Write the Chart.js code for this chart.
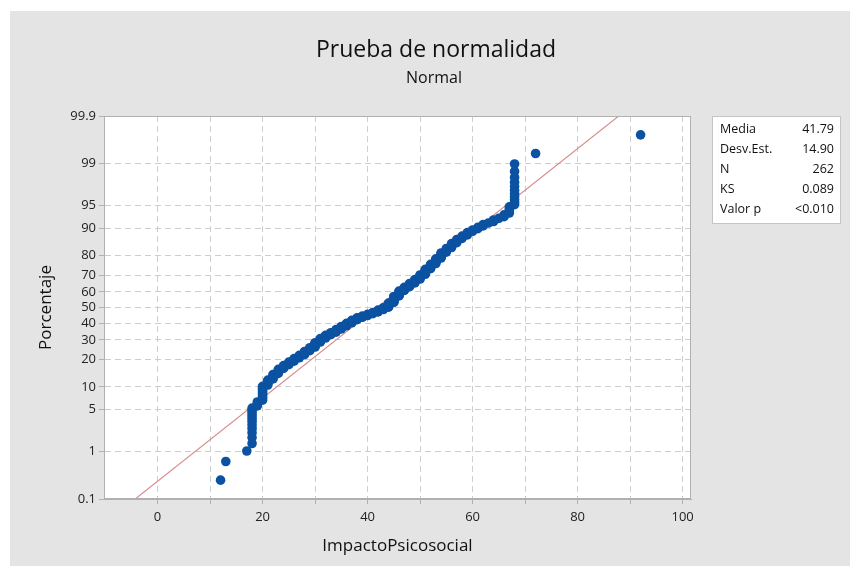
<!DOCTYPE html>
<html><head><meta charset="utf-8">
<script src="https://cdn.jsdelivr.net/npm/chart.js@4"></script>
<style>html,body{margin:0;padding:0;background:#fff}#wrap{width:850px;height:572px;position:relative}</style>
</head><body><div id="wrap"><canvas id="c" width="850" height="572"></canvas></div>
<script>
// ---- data (ImpactoPsicosocial: value and how many observations have it) ----
const impactoValues = [12,13,17,18,19,20,21,22,23,24,25,26,27,28,29,30,31,32,33,34,35,36,37,38,39,40,41,42,43,44,45,46,47,48,49,50,51,52,53,54,55,56,57,58,59,60,61,62,63,64,65,66,67,68,72,92];
const impactoCounts = [1,1,1,11,3,10,5,5,5,4,4,4,4,5,5,7,6,5,4,5,5,5,5,4,3,3,3,4,4,8,11,9,6,6,6,7,8,7,7,7,5,5,4,3,3,2,2,2,1,2,1,2,4,11,1,1];
const yTickPercents = [0.1,1,5,10,20,30,40,50,60,70,80,90,95,99,99.9];
const yTickLabels = ["0.1","1","5","10","20","30","40","50","60","70","80","90","95","99","99.9"];
const xTickValues = [0,10,20,30,40,50,60,70,80,90,100];
const xLabelStep = 20;
const statLabels = ["Media","Desv.Est.","N","KS","Valor p"];
const statValues = ["41.79","14.90","262","0.089","<0.010"];
const fitMean = 41.79;
const fitSd = 14.90;

function invNorm(p){
  const a=[-3.969683028665376e+01,2.209460984245205e+02,-2.759285104469687e+02,1.383577518672690e+02,-3.066479806614716e+01,2.506628277459239e+00];
  const b=[-5.447609879822406e+01,1.615858368580409e+02,-1.556989798598866e+02,6.680131188771972e+01,-1.328068155288572e+01];
  const c=[-7.784894002430293e-03,-3.223964580411365e-01,-2.400758277161838e+00,-2.549732539343734e+00,4.374664141464968e+00,2.938163982698783e+00];
  const d=[7.784695709041462e-03,3.224671290700398e-01,2.445134137142996e+00,3.754408661907416e+00];
  const pl=0.02425, ph=1-pl; let q,r;
  if(p<pl){q=Math.sqrt(-2*Math.log(p));return (((((c[0]*q+c[1])*q+c[2])*q+c[3])*q+c[4])*q+c[5])/((((d[0]*q+d[1])*q+d[2])*q+d[3])*q+1);}
  if(p<=ph){q=p-0.5;r=q*q;return (((((a[0]*r+a[1])*r+a[2])*r+a[3])*r+a[4])*r+a[5])*q/(((((b[0]*r+b[1])*r+b[2])*r+b[3])*r+b[4])*r+1);}
  q=Math.sqrt(-2*Math.log(1-p));return -(((((c[0]*q+c[1])*q+c[2])*q+c[3])*q+c[4])*q+c[5])/((((d[0]*q+d[1])*q+d[2])*q+d[3])*q+1);
}

// probability-plot positions (median ranks) for each observation
const sorted = [];
impactoValues.forEach((v,i)=>{ for(let k=0;k<impactoCounts[i];k++) sorted.push(v); });
const N = sorted.length;
const points = sorted.map((v,i)=>({x:v, y:invNorm((i+1-0.3)/(N+0.4))}));
const zMin = invNorm(yTickPercents[0]/100), zMax = invNorm(yTickPercents[yTickPercents.length-1]/100);
const fitLine = [{x:fitMean+zMin*fitSd, y:zMin},{x:fitMean+zMax*fitSd, y:zMax}];

const FONT = "'Open Sans', 'Noto Sans', sans-serif";

const decor = {
  id:'decor',
  beforeDraw(chart){
    const ctx=chart.ctx, a=chart.chartArea;
    ctx.save();
    ctx.fillStyle='#ffffff'; ctx.fillRect(0,0,850,572);
    ctx.fillStyle='#e4e4e4'; ctx.fillRect(10,11,840,555);
    ctx.fillStyle='#ffffff'; ctx.fillRect(a.left,a.top,a.right-a.left,a.bottom-a.top);
    ctx.restore();
  },
  afterDraw(chart){
    const ctx=chart.ctx, a=chart.chartArea;
    ctx.save();
    ctx.strokeStyle='#b0b0b0'; ctx.lineWidth=1;
    ctx.strokeRect(a.left+0.5,a.top+0.5,a.right-a.left-1,a.bottom-a.top-1);
    // titles
    ctx.fillStyle='#111111'; ctx.textAlign='center'; ctx.textBaseline='middle';
    ctx.font="23px "+FONT; ctx.fillText("Prueba de normalidad",436,50);
    ctx.font="16px "+FONT; ctx.fillText("Normal",434,78);
    // stats box
    const bx=712, by=116, bw=129, bh=108;
    ctx.fillStyle='#ffffff'; ctx.fillRect(bx,by,bw,bh);
    ctx.strokeStyle='#c4c4c4'; ctx.strokeRect(bx+0.5,by+0.5,bw-1,bh-1);
    ctx.font="12.5px "+FONT; ctx.fillStyle='#111111';
    statLabels.forEach((t,i)=>{
      const y=129+i*20.2;
      ctx.textAlign='left'; ctx.fillText(t,720,y);
      ctx.textAlign='right'; ctx.fillText(statValues[i],834,y);
    });
    ctx.restore();
  }
};

new Chart(document.getElementById('c'),{
  type:'scatter',
  data:{datasets:[
    {data:points, backgroundColor:'#0b52a2', borderColor:'#0b52a2', borderWidth:0, pointRadius:4.8, pointHoverRadius:4.8},
    {type:'line', data:fitLine, borderColor:'#d68c8c', borderWidth:1.1, pointRadius:0, fill:false, tension:0}
  ]},
  options:{
    responsive:false, animation:false, devicePixelRatio:1,
    layout:{padding:{left:0,top:116,right:159,bottom:0}},
    plugins:{legend:{display:false}, tooltip:{enabled:false}, title:{display:false}},
    scales:{
      x:{type:'linear', min:-10.2, max:101.6,
        afterBuildTicks(s){ s.ticks = xTickValues.map(v=>({value:v})); },
        afterFit(s){ s.height = 73; },
        ticks:{autoSkip:false, maxRotation:0, padding:5, color:'#222', font:{family:FONT,size:13},
          callback:(v)=> (v % xLabelStep === 0 ? String(v) : '')},
        grid:{color:'#cdcdcd', lineWidth:1, tickLength:5, tickColor:'#b0b0b0'},
        border:{display:true, color:'#b0b0b0', dash:[6,4]},
        title:{display:true, text:'ImpactoPsicosocial', color:'#111', font:{family:FONT,size:17}, padding:{top:0,bottom:16}}
      },
      y:{type:'linear', min:zMin, max:zMax,
        afterBuildTicks(s){ s.ticks = yTickPercents.map(p=>({value:invNorm(p/100)})); },
        afterFit(s){ s.width = 104; },
        ticks:{autoSkip:false, padding:3, color:'#222', font:{family:FONT,size:13},
          callback:(v,i)=> yTickLabels[i]},
        grid:{color:'#cdcdcd', lineWidth:1, tickLength:5, tickColor:'#b0b0b0'},
        border:{display:true, color:'#b0b0b0', dash:[6,4]},
        title:{display:true, text:'Porcentaje', color:'#111', font:{family:FONT,size:17}, padding:{top:36,bottom:0}}
      }
    }
  },
  plugins:[decor]
});
</script></body></html>
